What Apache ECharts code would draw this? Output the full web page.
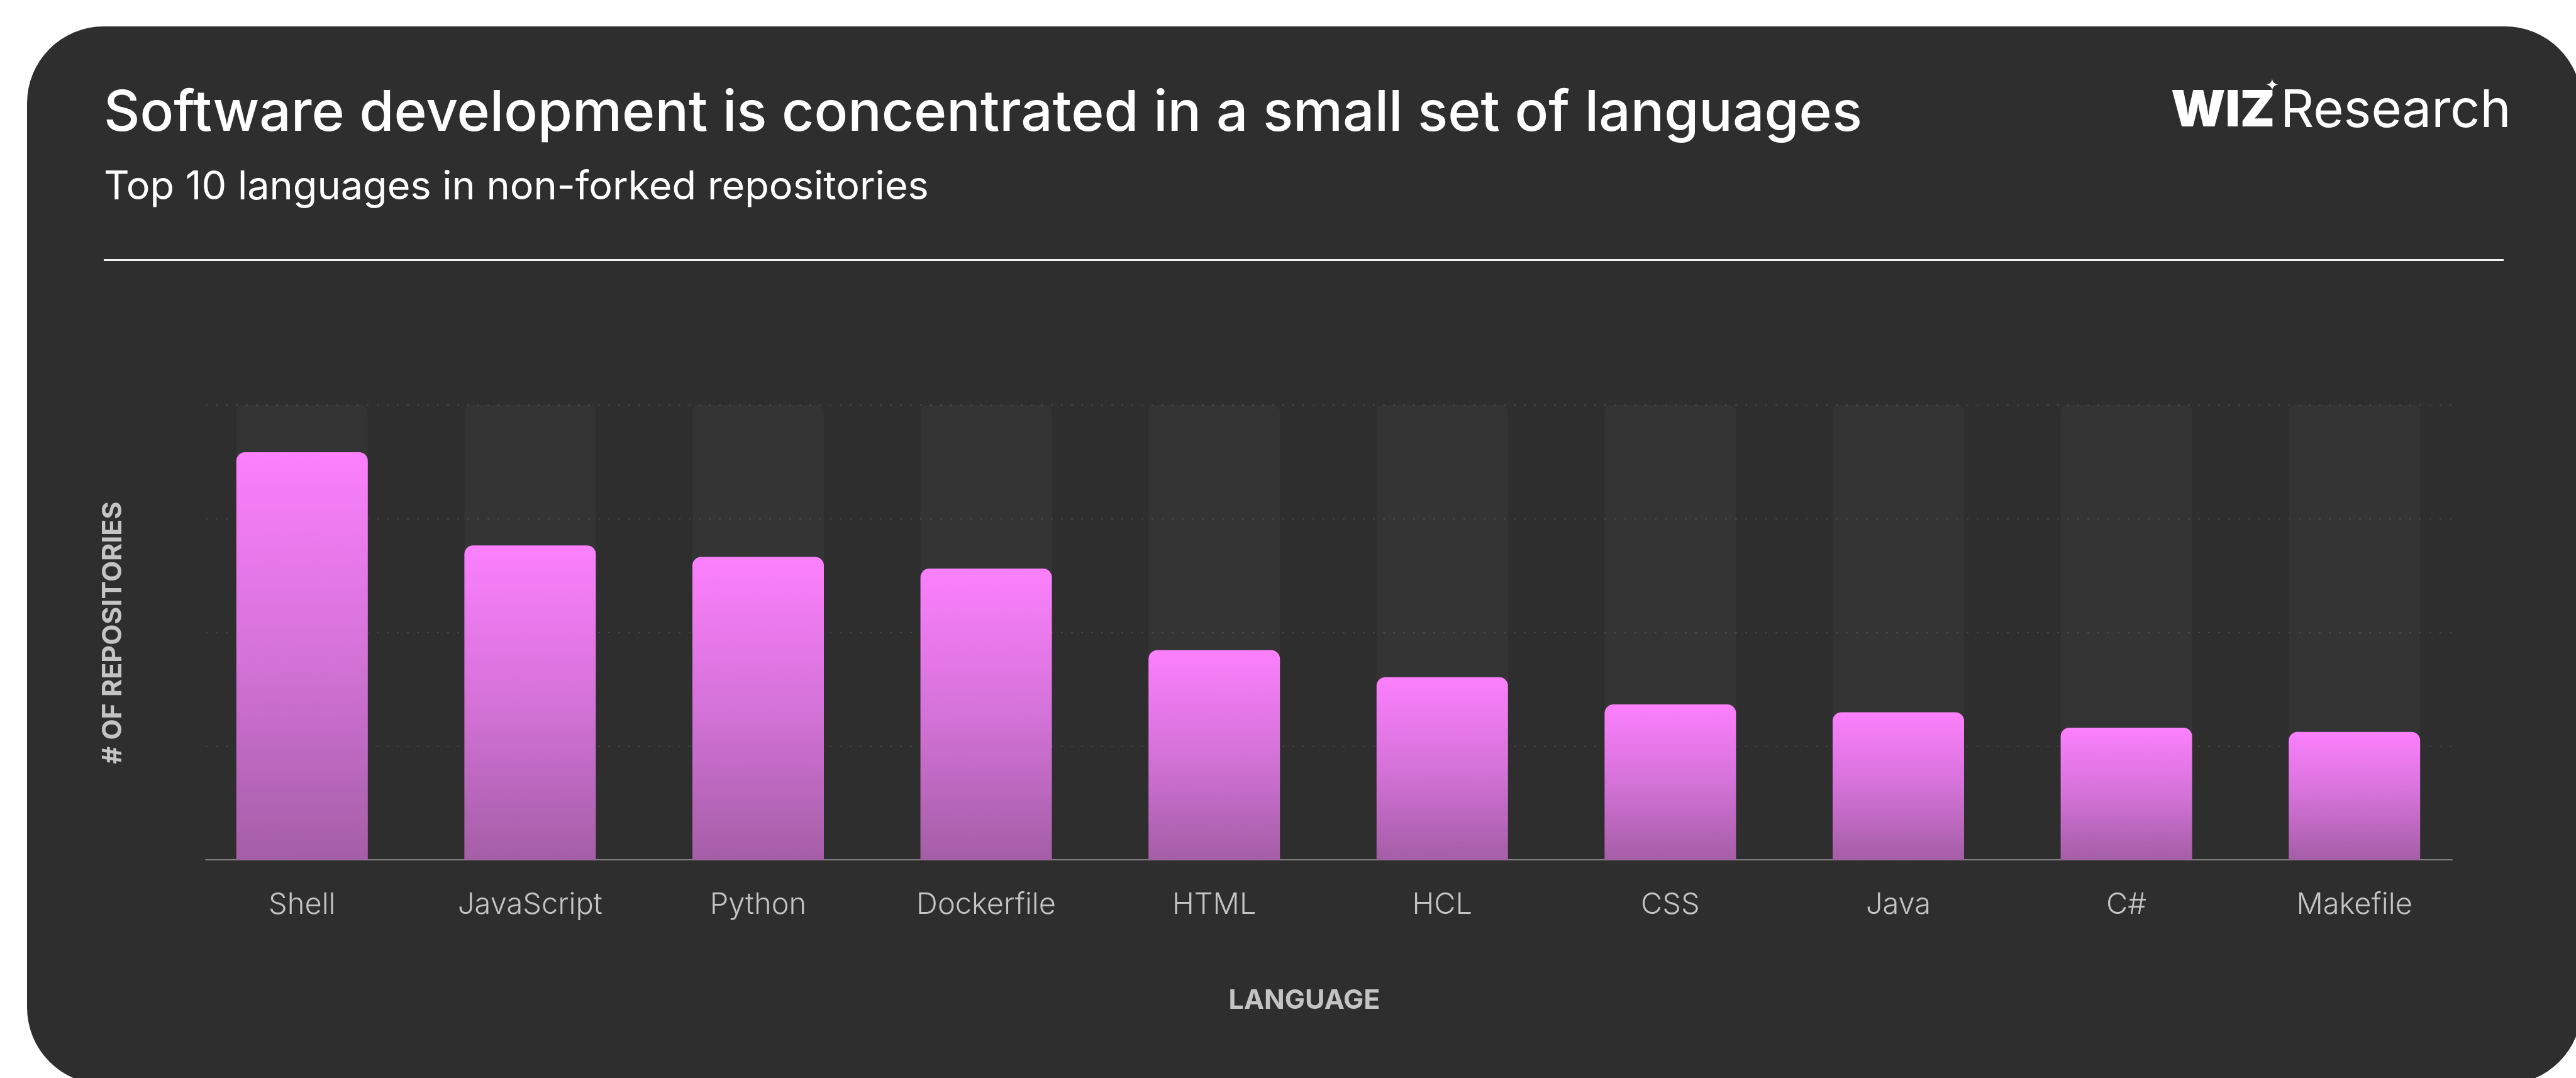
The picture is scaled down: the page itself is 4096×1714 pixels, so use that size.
<!DOCTYPE html>
<html>
<head>
<meta charset="utf-8">
<title>Top 10 languages in non-forked repositories</title>
<script src="https://cdn.jsdelivr.net/npm/echarts@6/dist/echarts.min.js"></script>
<style>
  html, body { margin: 0; padding: 0; background: #ffffff; }
  #chart { width: 4096px; height: 1714px; }
</style>
</head>
<body>
<div id="chart"></div>
<script>
// Languages, ordered by number of non-forked repositories
const categories = ['Shell', 'JavaScript', 'Python', 'Dockerfile', 'HTML', 'HCL', 'CSS', 'Java', 'C#', 'Makefile'];
// Repository counts on the chart's relative scale (axis runs 0 to 4)
const repositories = [3.585, 2.765, 2.664, 2.561, 1.844, 1.606, 1.366, 1.298, 1.162, 1.125];
// Value axis gridlines (no tick labels are shown)
const yTicks = [0, 1, 2, 3, 4];

const titleText = 'Software development is concentrated in a small set of languages';
const subtitleText = 'Top 10 languages in non-forked repositories';
const xName = 'LANGUAGE';
const yName = '# OF REPOSITORIES';

const chart = echarts.init(document.getElementById('chart'), null, { renderer: 'canvas' });

const yMin = yTicks[0];
const yMax = yTicks[yTicks.length - 1];
const yStep = yTicks[1] - yTicks[0];

const barGradient = new echarts.graphic.LinearGradient(0, 0, 0, 1, [
  { offset: 0, color: '#fc80fd' },
  { offset: 0.5, color: '#d472d8' },
  { offset: 1, color: '#a45ea6' }
]);

const option = {
  backgroundColor: '#ffffff',
  animation: false,
  grid: [
    // frame for the gridlines and the baseline
    { left: 327, right: 197, top: 644, bottom: 347 },
    // frame for the bars and category labels
    { left: 299, right: 171, top: 644, bottom: 347 }
  ],
  xAxis: [
    {
      gridIndex: 0,
      type: 'category',
      data: categories,
      axisLine: { show: true, lineStyle: { color: '#7f7f7f', width: 2 } },
      axisTick: { show: false },
      axisLabel: { show: false },
      splitLine: { show: false }
    },
    {
      gridIndex: 1,
      type: 'category',
      data: categories,
      axisLine: { show: false },
      axisTick: { show: false },
      axisLabel: {
        color: '#c4c4c4',
        fontFamily: 'Inter',
        fontWeight: 300,
        fontSize: 47,
        margin: 48
      }
    }
  ],
  yAxis: [
    {
      gridIndex: 0,
      type: 'value',
      min: yMin,
      max: yMax,
      interval: yStep,
      axisLine: { show: false },
      axisTick: { show: false },
      axisLabel: { show: false },
      splitLine: { show: true, lineStyle: { color: '#4b4b4b', width: 1.5, type: [3, 13] } }
    },
    {
      gridIndex: 1,
      type: 'value',
      min: yMin,
      max: yMax,
      interval: yStep,
      show: false,
      splitLine: { show: false }
    }
  ],
  series: [
    {
      type: 'bar',
      xAxisIndex: 1,
      yAxisIndex: 1,
      data: repositories,
      barWidth: 209,
      showBackground: true,
      backgroundStyle: { color: 'rgba(255,255,255,0.032)', borderRadius: [11, 11, 0, 0] },
      itemStyle: { color: barGradient, borderRadius: [14, 14, 0, 0] },
      z: 3
    }
  ],
  graphic: [
    {
      type: 'rect',
      z: -10,
      silent: true,
      shape: { x: 43, y: 42, width: 4062, height: 1682, r: 122 },
      style: { fill: '#2e2e2e' }
    },
    {
      type: 'text',
      z: 10,
      style: {
        x: 165, y: 181, text: titleText,
        fill: '#ffffff', font: '500 89px Inter',
        align: 'left', verticalAlign: 'middle'
      }
    },
    {
      type: 'text',
      z: 10,
      style: {
        x: 165, y: 298, text: subtitleText,
        fill: '#ffffff', font: '400 63px Inter',
        align: 'left', verticalAlign: 'middle'
      }
    },
    {
      type: 'rect',
      z: 10,
      shape: { x: 165, y: 412, width: 3816, height: 3 },
      style: { fill: '#f2f2f2' }
    },
    // WIZ Research wordmark
    {
      type: 'text',
      z: 10,
      style: {
        x: 3452, y: 177, text: 'WIZ',
        fill: '#ffffff', font: '900 80px Inter',
        align: 'left', verticalAlign: 'middle'
      }
    },
    {
      type: 'text',
      z: 10,
      style: {
        x: 3613, y: 137, text: '\u2726',
        fill: '#ffffff', font: '26px "DejaVu Sans"',
        align: 'center', verticalAlign: 'middle'
      }
    },
    {
      type: 'text',
      z: 10,
      style: {
        x: 3626, y: 177, text: 'Research',
        fill: '#ffffff', font: '400 83px Inter',
        align: 'left', verticalAlign: 'middle'
      }
    },
    // axis names
    {
      type: 'text',
      z: 10,
      style: {
        x: 2074, y: 1591, text: xName,
        fill: '#c4c4c4', font: '700 43px Inter',
        align: 'center', verticalAlign: 'middle'
      }
    },
    {
      type: 'text',
      z: 10,
      x: 180, y: 1006,
      rotation: Math.PI / 2,
      style: {
        x: 0, y: 0, text: yName,
        fill: '#c4c4c4', font: '700 43px Inter',
        align: 'center', verticalAlign: 'middle'
      }
    }
  ]
};

chart.setOption(option);
</script>
</body>
</html>
